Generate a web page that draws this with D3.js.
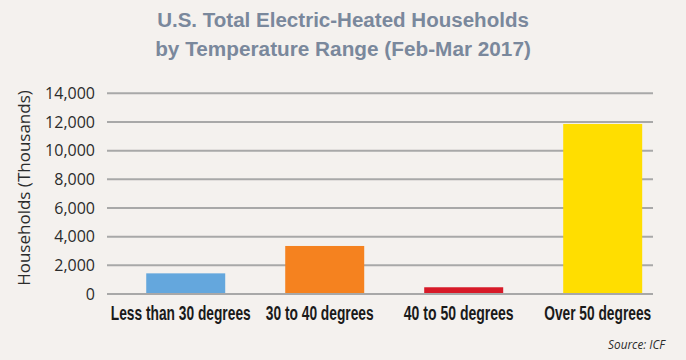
<!DOCTYPE html>
<html>
<head>
<meta charset="utf-8">
<script src="https://cdn.jsdelivr.net/npm/d3@7"></script>
<style>
  html, body { margin: 0; padding: 0; background: #f4f1ee; }
  svg { display: block; }
</style>
</head>
<body>
<svg id="chart" width="686" height="360"></svg>
<script>
const categories = ["Less than 30 degrees", "30 to 40 degrees", "40 to 50 degrees", "Over 50 degrees"];
const values = [1440, 3350, 470, 11860];
const colors = ["#64a7dd", "#f5821f", "#d71a28", "#ffde00"];
const yTicks = [0, 2000, 4000, 6000, 8000, 10000, 12000, 14000];
const titleLines = ["U.S. Total Electric-Heated Households", "by Temperature Range (Feb-Mar 2017)"];
const yTitle = "Households (Thousands)";
const source = "Source: ICF";

(function () {
const svg = d3.select("#chart");
const W = 686, H = 360;
svg.append("rect").attr("width", W).attr("height", H).attr("fill", "#f4f1ee");

const pLeft = 107, pRight = 653, pTop = 93.3, pBottom = 294;

const x = d3.scaleBand().domain(categories).range([pLeft, pRight])
  .paddingInner(0.4317).paddingOuter(0.18).align(0.784);
const y = d3.scaleLinear().domain([0, 14000]).range([pBottom, pTop]);

// fit a text horizontally to a target width (condensed look)
function squeeze(sel, cx, cy, targetW) {
  sel.each(function (d, i) {
    const t = d3.select(this);
    const w = this.getComputedTextLength();
    const k = Math.min(1, targetW(d, i) / w);
    t.attr("x", 0).attr("y", 0)
     .attr("transform", `translate(${cx(d, i)},${cy(d, i)}) scale(${k},1)`);
  });
}

// gridlines
svg.append("g").selectAll("line").data(yTicks).join("line")
  .attr("x1", pLeft).attr("x2", pRight)
  .attr("y1", d => y(d)).attr("y2", d => y(d))
  .attr("stroke", "#a8a8a8").attr("stroke-width", 2);

// y tick labels
svg.append("g").selectAll("text").data(yTicks).join("text")
  .attr("x", 95).attr("y", d => y(d)).attr("dy", "0.36em")
  .attr("text-anchor", "end")
  .attr("font-family", "'Open Sans', sans-serif").attr("font-size", 16)
  .attr("fill", "#2b2b2b")
  .text(d => d3.format(",")(d));

// bars
svg.append("g").selectAll("rect").data(values).join("rect")
  .attr("x", (d, i) => x(categories[i]))
  .attr("width", x.bandwidth())
  .attr("y", d => y(d))
  .attr("height", d => y(0) - y(d) - 1)
  .attr("fill", (d, i) => colors[i]);

// x labels
const xLabelWidths = [140, 108, 110, 107];
svg.append("g").selectAll("text").data(categories).join("text")
  .attr("text-anchor", "middle")
  .attr("font-family", "'Liberation Sans', Arial, sans-serif")
  .attr("font-weight", "bold").attr("font-size", 20)
  .attr("fill", "#1a1a1a")
  .text(d => d)
  .call(squeeze, d => x(d) + x.bandwidth() / 2 - 5, () => 320, (d, i) => xLabelWidths[i]);

// y title
svg.append("text")
  .attr("transform", "translate(30,188) rotate(-90)")
  .attr("text-anchor", "middle")
  .attr("font-family", "'Open Sans', sans-serif").attr("font-size", 17)
  .attr("fill", "#2b2b2b")
  .text(yTitle);

// title
const titleY = [27, 56];
const titleW = [372, 376];
svg.append("g").selectAll("text").data(titleLines).join("text")
  .attr("text-anchor", "middle")
  .attr("font-family", "'Liberation Sans', Arial, sans-serif")
  .attr("font-weight", "bold").attr("font-size", 21)
  .attr("fill", "#7a889c")
  .text(d => d)
  .call(squeeze, () => 343, (d, i) => titleY[i], (d, i) => titleW[i]);

// source
svg.append("text")
  .attr("text-anchor", "end")
  .attr("font-family", "'Open Sans', sans-serif").attr("font-style", "italic")
  .attr("font-size", 13).attr("fill", "#2b2b2b")
  .text(source)
  .call(squeeze, () => 665, () => 349, () => 57);
})();
</script>
</body>
</html>
